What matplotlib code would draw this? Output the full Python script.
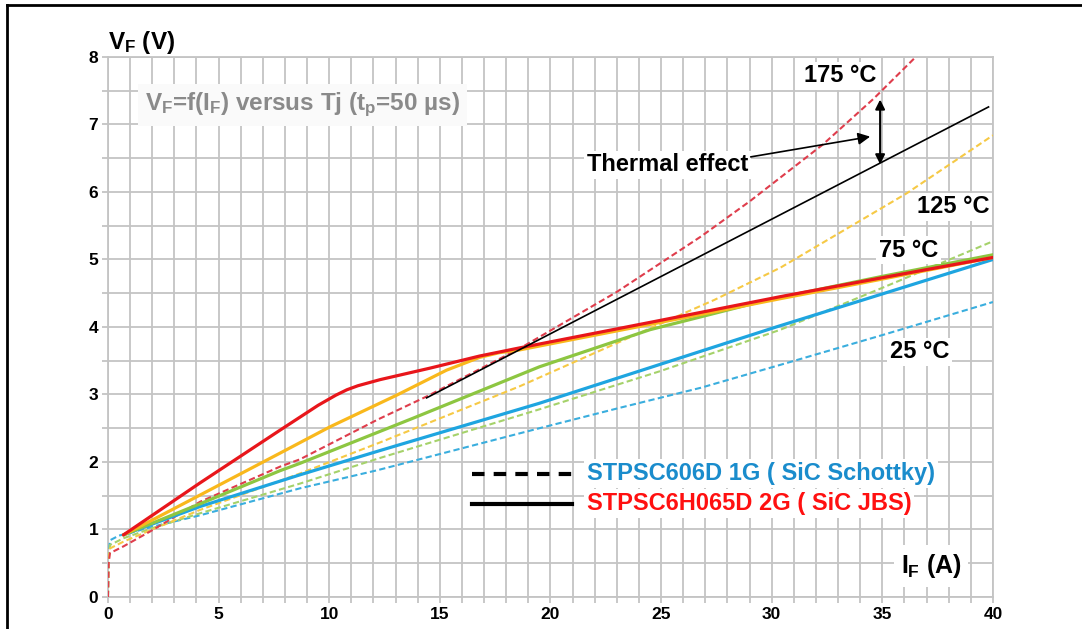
import matplotlib
matplotlib.use("Agg")
import matplotlib.pyplot as plt
from matplotlib.lines import Line2D

plt.rcParams["font.family"] = "Liberation Sans"
plt.rcParams["font.weight"] = "bold"
plt.rcParams["mathtext.fontset"] = "custom"
plt.rcParams["mathtext.rm"] = "Liberation Sans:bold"
plt.rcParams["mathtext.it"] = "Liberation Sans:bold"
plt.rcParams["mathtext.bf"] = "Liberation Sans:bold"

# ── STPSC6H065D 2G (SiC JBS) — solid curves, IF (A) / VF (V) ────────────────
i_jbs_25 = [0.7, 2, 4.16, 8.68, 12.3, 19.5, 30.2, 40]
v_jbs_25 = [0.92, 1.08, 1.34, 1.81, 2.17, 2.87, 4.0, 5.0]

i_jbs_75 = [0.7, 4.16, 7.77, 8.68, 13.8, 18.6, 19.5, 24.5, 29.2, 30.4, 35, 40]
v_jbs_75 = [0.92, 1.38, 1.87, 1.98, 2.65, 3.29, 3.41, 3.96, 4.35, 4.44, 4.75, 5.07]

i_jbs_125 = [0.7, 2, 4.16, 7.77, 10.03, 13.05, 15.3, 16.8, 17.7, 18.6, 20, 25, 30.4, 35, 40]
v_jbs_125 = [0.92, 1.14, 1.51, 2.13, 2.52, 2.99, 3.36, 3.55, 3.62, 3.66, 3.75, 4.07, 4.42, 4.71, 5.03]

i_jbs_175 = [0.7, 4.16, 7.77, 9.5, 10.3, 10.8, 11.3, 12.3, 14.55, 16.8, 18.6, 25, 30.4, 35, 40]
v_jbs_175 = [0.92, 1.69, 2.47, 2.84, 2.99, 3.07, 3.13, 3.22, 3.39, 3.57, 3.69, 4.1, 4.45, 4.73, 5.03]

# ── STPSC606D 1G (SiC Schottky) — dashed curves ──────────────────────────────
i_sch_25 = [0, 0.03, 0.09, 0.5, 1, 2, 4.16, 8.68, 12.2, 19.5, 23.1, 26.8, 30.4, 35, 40]
v_sch_25 = [0, 0.62, 0.84, 0.91, 0.95, 1.04, 1.21, 1.61, 1.88, 2.5, 2.8, 3.1, 3.44, 3.88, 4.37]

i_sch_75 = [0, 0.03, 0.09, 0.7, 2, 4.16, 8.68, 12.2, 19.5, 25, 30.4, 35, 40]
v_sch_75 = [0, 0.58, 0.77, 0.87, 1.02, 1.24, 1.68, 2.05, 2.78, 3.35, 3.96, 4.58, 5.27]

i_sch_125 = [0, 0.03, 0.09, 0.7, 2, 4.16, 8.68, 12.3, 18.6, 26.15, 27.4, 30.4, 36.1, 40]
v_sch_125 = [0, 0.55, 0.72, 0.82, 1.0, 1.29, 1.83, 2.29, 3.12, 4.22, 4.40, 4.88, 5.98, 6.84]

i_sch_175 = [0, 0.03, 0.09, 0.7, 1.9, 4.16, 7.77, 8.68, 12.2, 14.4, 18.6, 23.0, 26.8, 29.0, 32.3, 34.6, 36.6, 37.2]
v_sch_175 = [0, 0.5, 0.65, 0.75, 0.97, 1.41, 1.93, 2.04, 2.63, 2.97, 3.68, 4.52, 5.34, 5.86, 6.70, 7.38, 8.03, 8.25]

# straight reference line showing the self-heating trend
i_thermal = [14.4, 39.8]
v_thermal = [2.95, 7.26]

solid_colors = ["#1ea5e0", "#8dc641", "#f9b81c", "#e8161b"]
dashed_colors = ["#3aaede", "#a5d26a", "#f6c945", "#df3d4c"]
grid_color = "#c4c4c4"

fig = plt.figure(figsize=(10.82, 6.29), dpi=100)
ax = fig.add_axes([0.0998, 0.0509, 0.8179, 0.8585])

dashed = [(i_sch_25, v_sch_25), (i_sch_75, v_sch_75),
          (i_sch_125, v_sch_125), (i_sch_175, v_sch_175)]
solid = [(i_jbs_25, v_jbs_25), (i_jbs_75, v_jbs_75),
         (i_jbs_125, v_jbs_125), (i_jbs_175, v_jbs_175)]

for (xs, ys), c in zip(dashed, dashed_colors):
    ax.plot(xs, ys, color=c, linewidth=1.5, dashes=(3, 1.6), zorder=3)
for (xs, ys), c in zip(solid, solid_colors):
    ax.plot(xs, ys, color=c, linewidth=2.3, solid_capstyle="round", zorder=4)

ax.plot(i_thermal, v_thermal, color="black", linewidth=1.2, zorder=5)

ax.set_xlim(0, 40)
ax.set_ylim(0, 8)
ax.set_xticks(range(0, 41, 5))
ax.set_xticks(range(0, 41), minor=True)
ax.set_yticks(range(0, 9))
ax.set_yticks([k * 0.5 for k in range(17)], minor=True)
ax.grid(True, which="both", color=grid_color, linewidth=1.3, zorder=0)
ax.set_axisbelow(True)
ax.tick_params(which="both", color=grid_color, width=1.3, length=4,
               labelsize=12.5, pad=3)
for s in ax.spines.values():
    s.set_color(grid_color)
    s.set_linewidth(1.3)

box = dict(facecolor="white", edgecolor="none", pad=2)

# axis labels placed inside / above the plot area
ax.text(0, 8.22, r"$V_F$ (V)", fontsize=17.5, ha="left", va="center", clip_on=False)
ax.text(37.2, 0.46, r"$I_F$ (A)", fontsize=18, ha="center", va="center",
        bbox=dict(facecolor="white", edgecolor="none", pad=5), zorder=6)

ax.text(1.67, 7.29, r"$V_F$=f($I_F$) versus Tj (t$_p$=50 µs)", fontsize=17.5,
        color="#8a8a8a", ha="left", va="center",
        bbox=dict(facecolor="#fafafa", edgecolor="none", pad=5), zorder=6)

# temperature tags
for txt, x, y in [("175 °C", 33.1, 7.72), ("125 °C", 38.2, 5.78),
                  ("75 °C", 36.2, 5.14), ("25 °C", 36.7, 3.63)]:
    ax.text(x, y, txt, fontsize=17, ha="center", va="center", bbox=box, zorder=6)

ax.text(25.3, 6.4, "Thermal effect", fontsize=17, ha="center", va="center",
        bbox=box, zorder=6)
ax.annotate("", xy=(34.45, 6.82), xytext=(29.05, 6.52),
            arrowprops=dict(arrowstyle="-|>", color="black", lw=1.2,
                            mutation_scale=18, shrinkA=0, shrinkB=0), zorder=7)
ax.annotate("", xy=(34.9, 7.37), xytext=(34.9, 6.41),
            arrowprops=dict(arrowstyle="<|-|>", color="black", lw=1.5,
                            mutation_scale=14, shrinkA=0, shrinkB=0), zorder=7)

# device key
ax.add_line(Line2D([0.411, 0.524], [0.2285, 0.2285], transform=ax.transAxes,
                   color="black", linewidth=3, dashes=(3, 2.2), zorder=6))
ax.add_line(Line2D([0.411, 0.524], [0.1727, 0.1727], transform=ax.transAxes,
                   color="black", linewidth=3, zorder=6))
ax.text(0.541, 0.2285, "STPSC606D 1G ( SiC Schottky)", transform=ax.transAxes,
        fontsize=17, color="#1a8ccc", ha="left", va="center", bbox=box, zorder=6)
ax.text(0.541, 0.1727, "STPSC6H065D 2G ( SiC JBS)", transform=ax.transAxes,
        fontsize=17, color="#ff1010", ha="left", va="center", bbox=box, zorder=6)

# page frame (left and top edges)
fig.add_artist(Line2D([0.0065, 0.0065], [0, 0.992], color="black", linewidth=2))
fig.add_artist(Line2D([0.0065, 1], [0.992, 0.992], color="black", linewidth=2))

fig.savefig("out.png", dpi=100)
